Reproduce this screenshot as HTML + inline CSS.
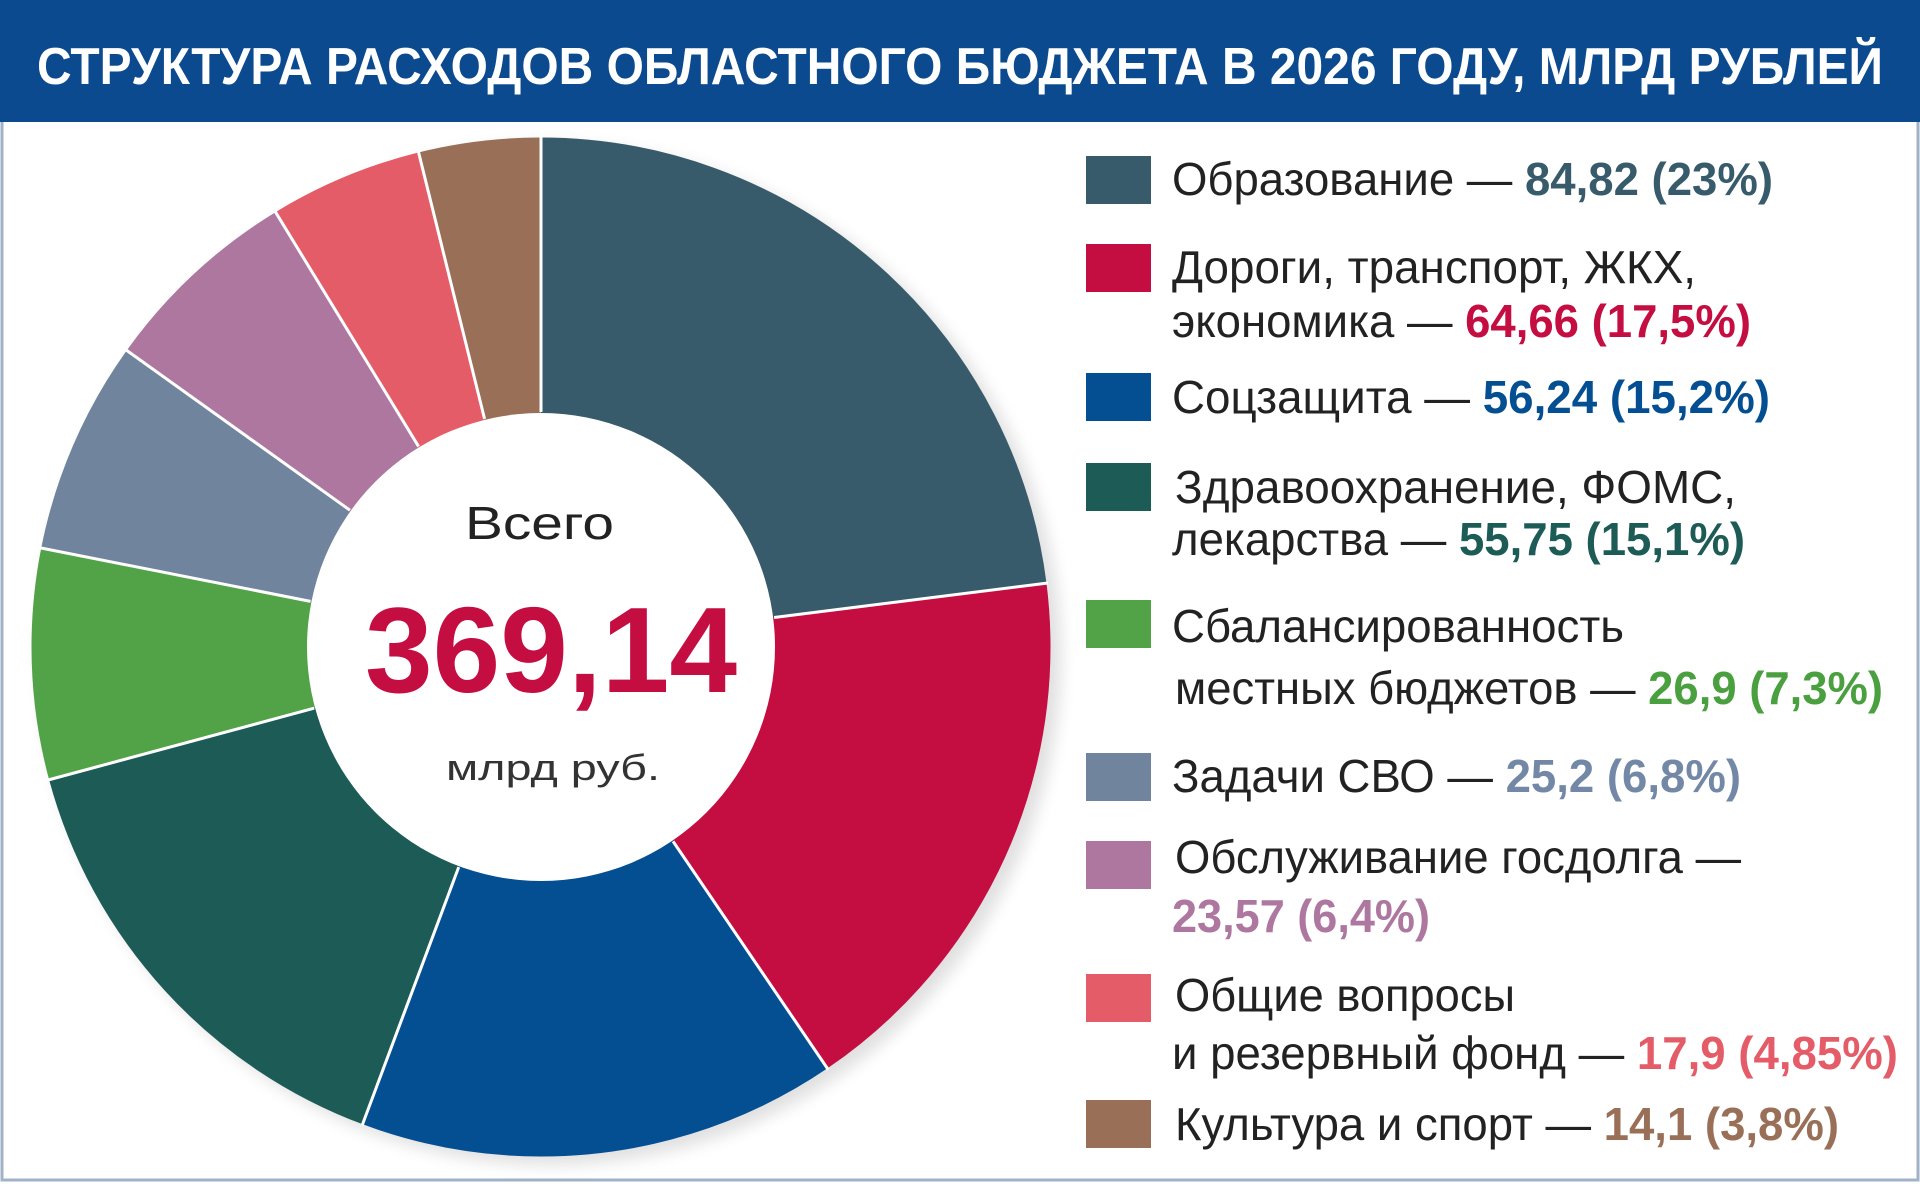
<!DOCTYPE html>
<html><head><meta charset="utf-8"><style>
html,body{margin:0;padding:0;background:#fff;}
svg{display:block;}
text{font-family:"Liberation Sans",sans-serif;}
</style></head><body>
<svg width="1920" height="1184" viewBox="0 0 1920 1184" xmlns="http://www.w3.org/2000/svg">
<rect x="0" y="0" width="1920" height="1184" fill="#fff"/>
<rect x="2" y="2" width="1916" height="1178" fill="none" stroke="#9fb2c6" stroke-width="3"/>
<rect x="0" y="0" width="1920" height="122" fill="#0b4a8e"/>
<text x="37" y="84" font-size="52" font-weight="bold" fill="#fff" font-family="Liberation Sans Narrow, Liberation Sans, sans-serif" textLength="1846" lengthAdjust="spacingAndGlyphs">СТРУКТУРА РАСХОДОВ ОБЛАСТНОГО БЮДЖЕТА В 2026 ГОДУ, МЛРД РУБЛЕЙ</text>

<defs><filter id="sh" x="-10%" y="-10%" width="130%" height="130%"><feGaussianBlur stdDeviation="8"/></filter></defs>
<circle cx="551" cy="655" r="510" fill="#000" opacity="0.12" filter="url(#sh)"/>
<g transform="rotate(-90 541 647)" fill="none" stroke-width="277">
<circle cx="541" cy="647" r="371" pathLength="360" stroke="#385b6b" stroke-dasharray="82.8 400" stroke-dashoffset="0"/>
<circle cx="541" cy="647" r="371" pathLength="360" stroke="#c40d40" stroke-dasharray="63 400" stroke-dashoffset="-82.8"/>
<circle cx="541" cy="647" r="371" pathLength="360" stroke="#044e92" stroke-dasharray="54.7 400" stroke-dashoffset="-145.8"/>
<circle cx="541" cy="647" r="371" pathLength="360" stroke="#1d5b56" stroke-dasharray="54.4 400" stroke-dashoffset="-200.5"/>
<circle cx="541" cy="647" r="371" pathLength="360" stroke="#52a347" stroke-dasharray="26.3 400" stroke-dashoffset="-254.9"/>
<circle cx="541" cy="647" r="371" pathLength="360" stroke="#71849e" stroke-dasharray="24.4 400" stroke-dashoffset="-281.2"/>
<circle cx="541" cy="647" r="371" pathLength="360" stroke="#ad77a0" stroke-dasharray="23 400" stroke-dashoffset="-305.6"/>
<circle cx="541" cy="647" r="371" pathLength="360" stroke="#e55c69" stroke-dasharray="17.5 400" stroke-dashoffset="-328.6"/>
<circle cx="541" cy="647" r="371" pathLength="360" stroke="#9a6f58" stroke-dasharray="13.9 400" stroke-dashoffset="-346.1"/>
</g>
<g stroke="#fff" stroke-width="3">
<line x1="541" y1="412" x2="541" y2="136"/>
<line x1="541" y1="412" x2="541" y2="136" transform="rotate(82.8 541 647)"/>
<line x1="541" y1="412" x2="541" y2="136" transform="rotate(145.8 541 647)"/>
<line x1="541" y1="412" x2="541" y2="136" transform="rotate(200.5 541 647)"/>
<line x1="541" y1="412" x2="541" y2="136" transform="rotate(254.9 541 647)"/>
<line x1="541" y1="412" x2="541" y2="136" transform="rotate(281.2 541 647)"/>
<line x1="541" y1="412" x2="541" y2="136" transform="rotate(305.6 541 647)"/>
<line x1="541" y1="412" x2="541" y2="136" transform="rotate(328.6 541 647)"/>
<line x1="541" y1="412" x2="541" y2="136" transform="rotate(346.1 541 647)"/>
</g>
<circle cx="541" cy="647" r="234" fill="#fff"/>
<text x="465" y="539" font-size="46" fill="#222" textLength="149" lengthAdjust="spacingAndGlyphs">Всего</text>
<text x="365" y="692" font-size="122" font-weight="bold" fill="#c40d40" textLength="372" lengthAdjust="spacingAndGlyphs">369,14</text>
<text x="446" y="780" font-size="36" fill="#333" textLength="214" lengthAdjust="spacingAndGlyphs">млрд руб.</text>

<g>
<rect x="1086" y="156" width="65" height="48" fill="#385b6b"/>
<rect x="1086" y="244" width="65" height="48" fill="#c40d40"/>
<rect x="1086" y="373" width="65" height="48" fill="#044e92"/>
<rect x="1086" y="463" width="65" height="48" fill="#1d5b56"/>
<rect x="1086" y="600" width="65" height="48" fill="#52a347"/>
<rect x="1086" y="753" width="65" height="48" fill="#71849e"/>
<rect x="1086" y="841" width="65" height="48" fill="#ad77a0"/>
<rect x="1086" y="974" width="65" height="48" fill="#e55c69"/>
<rect x="1086" y="1100" width="65" height="48" fill="#9a6f58"/>
</g>
<g font-size="46" fill="#222">
<text x="1172" y="195" textLength="601" lengthAdjust="spacingAndGlyphs">Образование — <tspan fill="#385b6b" font-weight="bold">84,82 (23%)</tspan></text>
<text x="1172" y="283" textLength="524" lengthAdjust="spacingAndGlyphs">Дороги, транспорт, ЖКХ,</text>
<text x="1172" y="337" textLength="579" lengthAdjust="spacingAndGlyphs">экономика — <tspan fill="#c40d40" font-weight="bold">64,66 (17,5%)</tspan></text>
<text x="1172" y="413" textLength="598" lengthAdjust="spacingAndGlyphs">Соцзащита — <tspan fill="#044e92" font-weight="bold">56,24 (15,2%)</tspan></text>
<text x="1175" y="503" textLength="561" lengthAdjust="spacingAndGlyphs">Здравоохранение, ФОМС,</text>
<text x="1172" y="555" textLength="573" lengthAdjust="spacingAndGlyphs">лекарства — <tspan fill="#1d5b56" font-weight="bold">55,75 (15,1%)</tspan></text>
<text x="1172" y="642" textLength="452" lengthAdjust="spacingAndGlyphs">Сбалансированность</text>
<text x="1175" y="704" textLength="708" lengthAdjust="spacingAndGlyphs">местных бюджетов — <tspan fill="#4aa03f" font-weight="bold">26,9 (7,3%)</tspan></text>
<text x="1172" y="792" textLength="569" lengthAdjust="spacingAndGlyphs">Задачи СВО — <tspan fill="#7388a6" font-weight="bold">25,2 (6,8%)</tspan></text>
<text x="1175" y="873" textLength="566" lengthAdjust="spacingAndGlyphs">Обслуживание госдолга —</text>
<text x="1172" y="932" textLength="258" lengthAdjust="spacingAndGlyphs" fill="#ad77a0" font-weight="bold">23,57 (6,4%)</text>
<text x="1175" y="1011" textLength="340" lengthAdjust="spacingAndGlyphs">Общие вопросы</text>
<text x="1172" y="1069" textLength="726" lengthAdjust="spacingAndGlyphs">и резервный фонд — <tspan fill="#e55c69" font-weight="bold">17,9 (4,85%)</tspan></text>
<text x="1175" y="1140" textLength="664" lengthAdjust="spacingAndGlyphs">Культура и спорт — <tspan fill="#9a6f58" font-weight="bold">14,1 (3,8%)</tspan></text>
</g>
</svg>
</body></html>
